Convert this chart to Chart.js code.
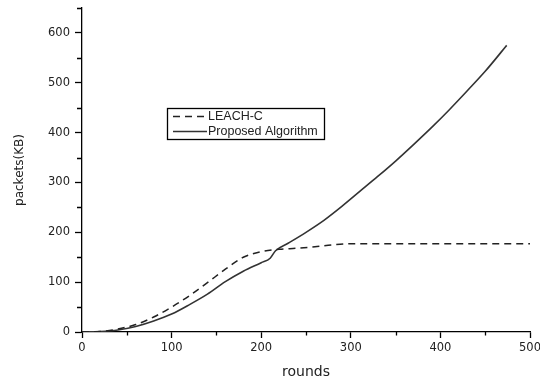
<!DOCTYPE html>
<html>
<head>
<meta charset="utf-8">
<script src="https://cdn.jsdelivr.net/npm/chart.js@4"></script>
<style>
    html, body { margin: 0; padding: 0; background: #fff; }
    #wrap { width: 540px; height: 381px; }
</style>
</head>
<body>
<div id="wrap"><canvas id="packetsChart"></canvas></div>
<script>
// values
const leachRounds = [0, 20, 40, 60, 80, 100, 120, 140, 160, 180, 200, 220, 240, 260, 280, 300, 350, 400, 450, 500];
const leachPackets = [0, 1, 6, 15, 30, 50, 73, 99, 126, 150, 161, 166, 168, 171, 175, 177, 177, 177, 177, 177];

const proposedRounds = [0, 20, 40, 60, 80, 100, 120, 140, 160, 180, 200, 210, 216, 230, 250, 270, 290, 310, 330, 350, 370, 390, 410, 430, 450, 474];
const proposedPackets = [0, 1, 4, 11, 22, 36, 55, 76, 101, 122, 139, 148, 163, 178, 200, 224, 252, 282, 312, 343, 376, 410, 446, 484, 523, 575];

const xTicks = { min: 0, max: 500, step: 50, labelEvery: 100 };
const yTicks = { min: 0, max: 650, step: 50, labelEvery: 100 };

const seriesNames = ['LEACH-C', 'Proposed Algorithm'];

const toPoints = (xs, ys) => xs.map((x, i) => ({ x: x, y: ys[i] }));

const tickFont = { family: 'DejaVu Sans', size: 11.5 };
const textColor = '#222';

// short ticks at the unlabelled steps
const minorTicks = {
    id: 'minorTicks',
    afterDraw(chart) {
        const ctx = chart.ctx;
        const xs = chart.scales.x, ys = chart.scales.y;
        ctx.save();
        ctx.strokeStyle = '#000';
        ctx.lineWidth = 1.3;
        ctx.beginPath();
        for (let v = xTicks.min + xTicks.step; v <= xTicks.max; v += xTicks.step) {
            if (v % xTicks.labelEvery === 0) continue;
            const px = Math.round(xs.getPixelForValue(v)) + 0.5;
            ctx.moveTo(px, xs.top);
            ctx.lineTo(px, xs.top + 3.5);
        }
        for (let v = yTicks.min + yTicks.step; v <= yTicks.max; v += yTicks.step) {
            if (v % yTicks.labelEvery === 0) continue;
            const py = Math.round(ys.getPixelForValue(v)) + 0.5;
            ctx.moveTo(ys.right, py);
            ctx.lineTo(ys.right - 5, py);
        }
        ctx.stroke();
        ctx.restore();
    }
};

// boxed legend inside the plot
const boxLegend = {
    id: 'boxLegend',
    afterDraw(chart) {
        const ctx = chart.ctx;
        const left = 167, top = 108, w = 157, h = 31;
        ctx.save();
        ctx.fillStyle = '#fff';
        ctx.fillRect(left, top, w, h);
        ctx.strokeStyle = '#000';
        ctx.lineWidth = 1.3;
        ctx.strokeRect(left + 0.5, top + 0.5, w, h);
        ctx.font = '12.5px "Liberation Sans"';
        ctx.textBaseline = 'middle';
        chart.data.datasets.forEach((ds, i) => {
            const cy = top + 8.5 + i * 15;
            ctx.strokeStyle = ds.borderColor;
            ctx.lineWidth = ds.borderWidth;
            ctx.setLineDash(ds.borderDash || []);
            ctx.beginPath();
            ctx.moveTo(left + 6, cy);
            ctx.lineTo(left + 40, cy);
            ctx.stroke();
            ctx.setLineDash([]);
            ctx.fillStyle = textColor;
            ctx.fillText(ds.label, left + 41, cy);
        });
        ctx.restore();
    }
};

new Chart(document.getElementById('packetsChart'), {
    type: 'line',
    data: {
        datasets: [{
            label: seriesNames[0],
            data: toPoints(leachRounds, leachPackets),
            borderColor: '#222',
            borderWidth: 1.5,
            borderDash: [7, 5],
            pointRadius: 0,
            cubicInterpolationMode: 'monotone',
            fill: false
        }, {
            label: seriesNames[1],
            data: toPoints(proposedRounds, proposedPackets),
            borderColor: '#333',
            borderWidth: 1.6,
            pointRadius: 0,
            cubicInterpolationMode: 'monotone',
            fill: false
        }]
    },
    options: {
        responsive: true,
        maintainAspectRatio: false,
        animation: false,
        layout: { padding: { top: 8, right: 10, bottom: 0, left: 0 } },
        plugins: {
            legend: { display: false },
            tooltip: { enabled: false }
        },
        scales: {
            x: {
                type: 'linear',
                min: xTicks.min,
                max: xTicks.max,
                afterFit: scale => {
                    scale.height = 49;
                    scale.paddingRight = 0;
                },
                border: { display: true, color: '#000', width: 1.3 },
                grid: {
                    drawOnChartArea: false,
                    tickLength: 6,
                    tickWidth: 1.3,
                    tickColor: c => (c.tick && c.tick.value % xTicks.labelEvery === 0) ? '#000' : 'rgba(0,0,0,0)'
                },
                ticks: {
                    stepSize: xTicks.step,
                    maxRotation: 0,
                    autoSkip: false,
                    padding: 3,
                    color: textColor,
                    font: tickFont,
                    callback: v => v % xTicks.labelEvery === 0 ? v : ''
                },
                title: {
                    display: true,
                    text: 'rounds',
                    color: textColor,
                    font: { family: 'DejaVu Sans', size: 14 },
                    padding: { top: 0, bottom: 0 }
                }
            },
            y: {
                type: 'linear',
                min: yTicks.min,
                max: yTicks.max,
                afterFit: scale => {
                    scale.width = 82;
                    scale.paddingTop = 0;
                },
                border: { display: true, color: '#000', width: 1.3 },
                grid: {
                    drawOnChartArea: false,
                    tickLength: 7,
                    tickWidth: 1.3,
                    tickColor: c => (c.tick && c.tick.value % yTicks.labelEvery === 0) ? '#000' : 'rgba(0,0,0,0)'
                },
                ticks: {
                    stepSize: yTicks.step,
                    autoSkip: false,
                    padding: 5,
                    color: textColor,
                    font: tickFont,
                    callback: v => v % yTicks.labelEvery === 0 ? v : ''
                },
                title: {
                    display: true,
                    text: 'packets(KB)',
                    color: textColor,
                    font: { family: 'DejaVu Sans', size: 12 },
                    padding: { top: 13, bottom: 0 }
                }
            }
        }
    },
    plugins: [minorTicks, boxLegend]
});
</script>
</body>
</html>
